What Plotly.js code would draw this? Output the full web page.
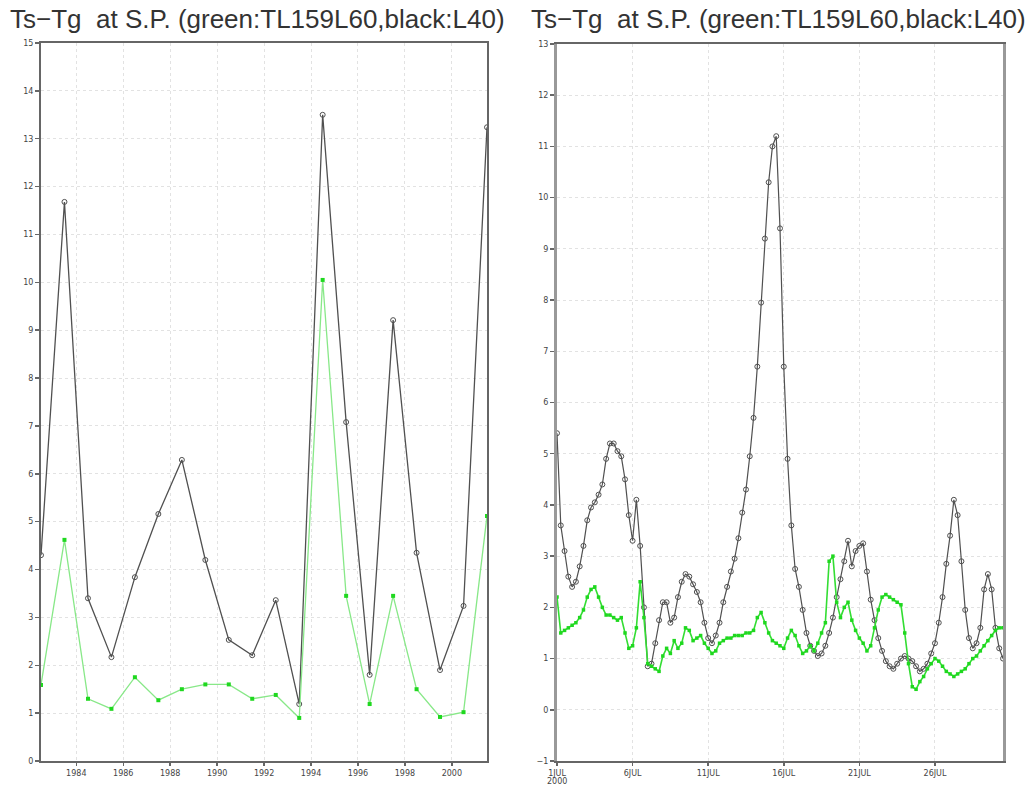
<!DOCTYPE html>
<html>
<head>
<meta charset="utf-8">
<script src="https://cdn.plot.ly/plotly-3.0.1.min.js"></script>
<style>
  html, body { margin: 0; padding: 0; background: #fff; }
  #chart { width: 1029px; height: 787px; }
</style>
</head>
<body>
<div id="chart"></div>
<script>
// Annual series (left panel), one value per year, stamped at mid-year
const yearDates = [
  '1982-07-01','1983-07-01','1984-07-01','1985-07-01','1986-07-01',
  '1987-07-01','1988-07-01','1989-07-01','1990-07-01','1991-07-01',
  '1992-07-01','1993-07-01','1994-07-01','1995-07-01','1996-07-01',
  '1997-07-01','1998-07-01','1999-07-01','2000-07-01','2001-07-01'
];
const annualL40 = [4.3, 11.68, 3.4, 2.17, 3.84, 5.16, 6.29, 4.2, 2.53, 2.21,
                   3.36, 1.19, 13.5, 7.08, 1.8, 9.21, 4.35, 1.9, 3.24, 13.24];
const annualTL159 = [1.59, 4.62, 1.3, 1.09, 1.75, 1.27, 1.5, 1.6, 1.6, 1.3,
                     1.38, 0.9, 10.05, 3.45, 1.19, 3.45, 1.5, 0.92, 1.02, 5.12];
const yearTickVals = ['1984-01-01','1986-01-01','1988-01-01','1990-01-01','1992-01-01',
                      '1994-01-01','1996-01-01','1998-01-01','2000-01-01'];
const yearTickText = ['1984','1986','1988','1990','1992','1994','1996','1998','2000'];

// 6-hourly series (right panel), July
const sixHourlyStart = '2000-07-01T00:00:00Z';
const sixHourlyL40 = [
  5.4, 3.6, 3.1, 2.6, 2.4, 2.5, 2.8, 3.2, 3.7, 3.95,
  4.05, 4.2, 4.4, 4.9, 5.2, 5.2, 5.05, 4.95, 4.5, 3.8,
  3.3, 4.1, 3.2, 2.0, 0.85, 0.9, 1.3, 1.75, 2.1, 2.1,
  1.7, 1.8, 2.2, 2.5, 2.65, 2.6, 2.45, 2.3, 2.1, 1.7,
  1.4, 1.3, 1.45, 1.7, 2.1, 2.4, 2.7, 2.95, 3.35, 3.85,
  4.3, 4.95, 5.7, 6.7, 7.95, 9.2, 10.3, 11.0, 11.2, 9.4,
  6.7, 4.9, 3.6, 2.75, 2.4, 1.95, 1.5, 1.25, 1.15, 1.05,
  1.1, 1.25, 1.5, 1.8, 2.2, 2.55, 2.9, 3.3, 2.8, 3.1,
  3.2, 3.25, 2.7, 2.15, 1.75, 1.4, 1.15, 0.95, 0.85, 0.8,
  0.9, 1.0, 1.05, 1.0, 0.95, 0.85, 0.75, 0.8, 0.9, 1.1,
  1.3, 1.7, 2.2, 2.85, 3.4, 4.1, 3.8, 2.9, 1.95, 1.4,
  1.2, 1.3, 1.6, 2.35, 2.65, 2.35, 1.6, 1.2, 1.0
];
const sixHourlyTL159 = [
  2.2, 1.5, 1.55, 1.6, 1.65, 1.7, 1.8, 1.95, 2.2, 2.35,
  2.4, 2.2, 2.0, 1.85, 1.85, 1.8, 1.75, 1.8, 1.5, 1.2,
  1.25, 1.6, 2.5, 1.8, 0.9, 0.85, 0.8, 0.75, 1.05, 1.2,
  1.1, 1.35, 1.2, 1.3, 1.6, 1.55, 1.35, 1.4, 1.45, 1.3,
  1.2, 1.1, 1.15, 1.3, 1.35, 1.4, 1.4, 1.45, 1.45, 1.45,
  1.5, 1.5, 1.55, 1.8, 1.9, 1.7, 1.5, 1.35, 1.3, 1.25,
  1.2, 1.4, 1.55, 1.45, 1.25, 1.1, 1.15, 1.25, 1.15, 1.3,
  1.5, 1.7, 2.9, 3.0, 2.1, 1.8, 2.0, 2.1, 1.75, 1.55,
  1.4, 1.3, 1.15, 1.25, 1.6, 1.95, 2.2, 2.25, 2.2, 2.15,
  2.1, 2.05, 1.5, 0.9, 0.45, 0.4, 0.55, 0.65, 0.8, 0.9,
  1.0, 0.95, 0.85, 0.75, 0.7, 0.65, 0.7, 0.75, 0.8, 0.9,
  1.0, 1.05, 1.15, 1.25, 1.35, 1.45, 1.55, 1.6, 1.6
];
const dayTickVals = ['2000-07-01','2000-07-06','2000-07-11','2000-07-16','2000-07-21','2000-07-26'];
const dayTickText = ['1JUL','6JUL','11JUL','16JUL','21JUL','26JUL'];
const startYearLabel = '2000';

const titleText = 'Ts\u2212Tg  at S.P. (green:TL159L60,black:L40)';

// time stamps for the 6-hourly samples
const t0 = Date.parse(sixHourlyStart);
const sixHourlyDates = sixHourlyL40.map((_, i) =>
  new Date(t0 + i * 6 * 3600 * 1000).toISOString().slice(0, 19).replace('T', ' '));

const W = 1029, H = 787;
const px = (a, b) => [a / W, b / W];
const py = (top, bottom) => [1 - bottom / H, 1 - top / H];

const black = '#505050', greenLine = '#88e888', greenMark = '#1fd81f';

const traces = [
  { x: yearDates, y: annualL40, xaxis: 'x', yaxis: 'y', mode: 'lines+markers',
    line: { color: black, width: 1.3 },
    marker: { symbol: 'circle-open', size: 5, color: black, line: { width: 1 } } },
  { x: yearDates, y: annualTL159, xaxis: 'x', yaxis: 'y', mode: 'lines+markers',
    line: { color: greenLine, width: 1.3 },
    marker: { symbol: 'square', size: 4, color: greenMark } },
  { x: sixHourlyDates, y: sixHourlyL40, xaxis: 'x2', yaxis: 'y2', mode: 'lines+markers',
    line: { color: black, width: 1.2 },
    marker: { symbol: 'circle-open', size: 5, color: black, line: { width: 1 } } },
  { x: sixHourlyDates, y: sixHourlyTL159, xaxis: 'x2', yaxis: 'y2', mode: 'lines+markers',
    line: { color: '#33dd33', width: 1.6 },
    marker: { symbol: 'square', size: 3.5, color: greenMark } }
];

const axisCommon = {
  showline: true, mirror: true, linecolor: '#666', linewidth: 2,
  ticks: 'outside', ticklen: 4, tickcolor: '#666', tickwidth: 1.5,
  showgrid: true, gridcolor: '#e2e2e2', griddash: 'dot', gridwidth: 1,
  zeroline: false, fixedrange: true,
  tickfont: { family: 'DejaVu Sans', size: 8, color: '#444' }
};

const layout = {
  width: W, height: H,
  margin: { l: 0, r: 0, t: 0, b: 0 },
  paper_bgcolor: '#fff', plot_bgcolor: '#fff',
  showlegend: false,
  xaxis: Object.assign({}, axisCommon, {
    type: 'date', domain: px(41, 487), anchor: 'y', ticklen: 3,
    range: [yearDates[0], yearDates[yearDates.length - 1]],
    tickmode: 'array', tickvals: yearTickVals, ticktext: yearTickText
  }),
  yaxis: Object.assign({}, axisCommon, {
    domain: py(43, 761), anchor: 'x', range: [0, 15], dtick: 1, tick0: 0
  }),
  xaxis2: Object.assign({}, axisCommon, {
    type: 'date', domain: px(557, 1003), anchor: 'y2', ticklen: 3,
    range: [sixHourlyDates[0], sixHourlyDates[sixHourlyDates.length - 1]],
    tickmode: 'array', tickvals: dayTickVals, ticktext: dayTickText
  }),
  yaxis2: Object.assign({}, axisCommon, {
    domain: py(44, 761), anchor: 'x2', range: [-1, 13], dtick: 1, tick0: -1,
    linecolor: '#999', linewidth: 3
  }),
  annotations: [
    { text: titleText, xref: 'paper', yref: 'paper', x: 257 / W, y: 1 - 19 / H,
      xanchor: 'center', yanchor: 'middle', showarrow: false,
      font: { family: 'Liberation Sans', size: 26, color: '#333' } },
    { text: titleText, xref: 'paper', yref: 'paper', x: 778 / W, y: 1 - 19 / H,
      xanchor: 'center', yanchor: 'middle', showarrow: false,
      font: { family: 'Liberation Sans', size: 26, color: '#333' } },
    { text: startYearLabel, xref: 'x2', yref: 'paper', x: dayTickVals[0], y: 1 - 781 / H,
      xanchor: 'center', yanchor: 'middle', showarrow: false,
      font: { family: 'DejaVu Sans', size: 8, color: '#444' } }
  ]
};

Plotly.newPlot('chart', traces, layout, { displayModeBar: false, staticPlot: true });
</script>
</body>
</html>
